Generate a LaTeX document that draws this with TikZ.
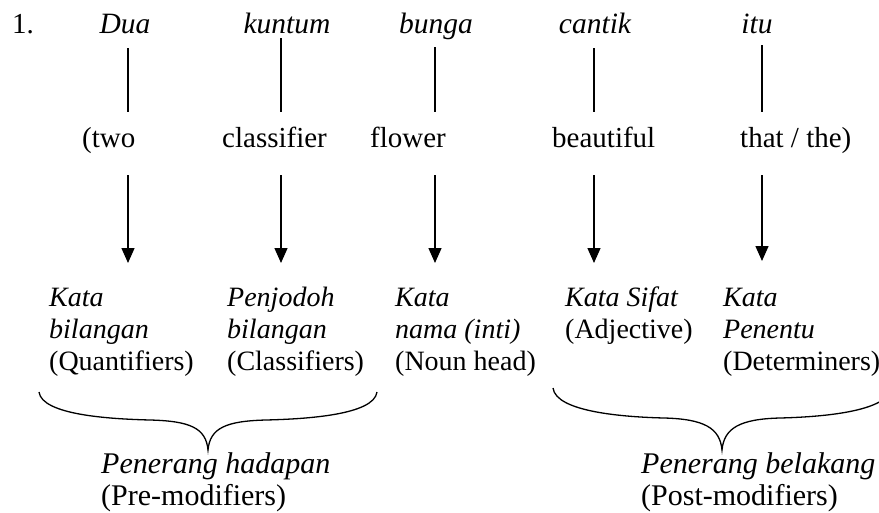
\documentclass[tikz,border=0pt]{standalone}
\usepackage{fontspec}
\setmainfont{Liberation Serif}
\usetikzlibrary{arrows.meta}
\begin{document}
\begin{tikzpicture}[x=1pt,y=-1pt,
  every node/.style={inner sep=0pt, font=\fontsize{28}{31.5}\selectfont},
  word/.style={anchor=base, font=\fontsize{29.5}{31.5}\selectfont\itshape},
  gloss/.style={anchor=base west, font=\fontsize{29}{31.5}\selectfont},
  lbl/.style={anchor=base west},
  ilbl/.style={anchor=base west, font=\fontsize{28}{31.5}\selectfont\itshape},
  grp/.style={anchor=base west, font=\fontsize{30}{31.5}\selectfont},
  igrp/.style={anchor=base west, font=\fontsize{30}{31.5}\selectfont\itshape},
  tie/.style={line width=1.4pt},
  pointer/.style={line width=1.4pt, -{Triangle[length=15pt,width=13pt]}},
  brace/.style={line width=1.3pt}]
\useasboundingbox (0,0) rectangle (879,512);

% Malay phrase
\node[gloss] (num) at (12,33) {1.};
\node[word] (w1) at (125,33) {Dua};
\node[word] (w2) at (287,33) {kuntum};
\node[word] (w3) at (436,33) {bunga};
\node[word] (w4) at (595,33) {cantik};
\node[word] (w5) at (757,33) {itu};

% English gloss
\node[gloss] (g1) at (82,147) {(two};
\node[gloss] (g2) at (222,147) {classifier};
\node[gloss] (g3) at (370,147) {flower};
\node[gloss] (g4) at (552,147) {beautiful};
\node[gloss] (g5) at (740,147) {that / the)};

% word classes
\node[ilbl] (c1a) at (49,306) {Kata};
\node[ilbl] (c1b) at (49,338) {bilangan};
\node[lbl]  (c1c) at (49,370) {(Quantifiers)};
\node[ilbl] (c2a) at (227,306) {Penjodoh};
\node[ilbl] (c2b) at (227,338) {bilangan};
\node[lbl]  (c2c) at (227,370) {(Classifiers)};
\node[ilbl] (c3a) at (395,306) {Kata};
\node[ilbl] (c3b) at (395,338) {nama (inti)};
\node[lbl]  (c3c) at (395,370) {(Noun head)};
\node[ilbl] (c4a) at (565,306) {Kata Sifat};
\node[lbl]  (c4b) at (565,338) {(Adjective)};
\node[ilbl] (c5a) at (723,306) {Kata};
\node[ilbl] (c5b) at (723,338) {Penentu};
\node[lbl]  (c5c) at (723,370) {(Determiners)};

% modifier groups
\node[igrp] (pre) at (101,473) {Penerang hadapan};
\node[grp]  (pree) at (101,505) {(Pre-modifiers)};
\node[igrp] (post) at (641,473) {Penerang belakang};
\node[grp]  (poste) at (641,505) {(Post-modifiers)};

% connector end points
\coordinate (t1) at (128,48);  \coordinate (b1) at (128,112);
\coordinate (t2) at (281,38);  \coordinate (b2) at (281,112);
\coordinate (t3) at (435,47);  \coordinate (b3) at (435,112);
\coordinate (t4) at (594,48);  \coordinate (b4) at (594,112);
\coordinate (t5) at (762,45);  \coordinate (b5) at (762,112);
\coordinate (s1) at (128,175); \coordinate (e1) at (128,263);
\coordinate (s2) at (281,175); \coordinate (e2) at (281,263);
\coordinate (s3) at (435,175); \coordinate (e3) at (435,263);
\coordinate (s4) at (594,175); \coordinate (e4) at (594,263);
\coordinate (s5) at (762,175); \coordinate (e5) at (762,261);

\foreach \i in {1,...,5} {
  \draw[tie] (t\i) -- (b\i);
  \draw[pointer] (s\i) -- (e\i);
}

% braces
\coordinate (bl1) at (39,392);
\coordinate (bt1) at (208,450);
\coordinate (br1) at (377,392);
\draw[brace] (bl1) .. controls (42,415) and (110,419) .. (150,420)
  .. controls (190,421) and (206,428) .. (bt1)
  .. controls (210,428) and (226,421) .. (266,420)
  .. controls (306,419) and (374,415) .. (br1);

\begin{scope}
\clip (0,0) rectangle (879,512);
\coordinate (bl2) at (553,388);
\coordinate (bt2) at (722,450);
\coordinate (br2) at (891,388);
\draw[brace] (bl2) .. controls (556,412) and (624,417) .. (664,418)
  .. controls (704,419) and (720,428) .. (bt2)
  .. controls (724,428) and (740,419) .. (780,418)
  .. controls (820,417) and (888,412) .. (br2);
\end{scope}
\end{tikzpicture}
\end{document}
